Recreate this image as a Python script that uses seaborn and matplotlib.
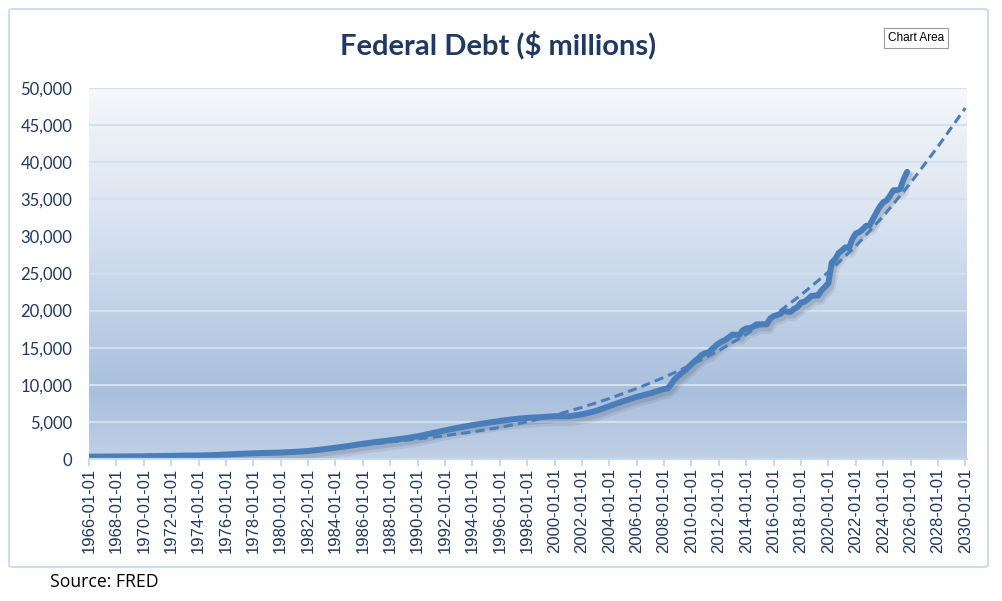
import numpy as np
import pandas as pd
import matplotlib
matplotlib.use("Agg")
import matplotlib.pyplot as plt
import matplotlib.dates as mdates
from matplotlib import patheffects as pe
from matplotlib.colors import LinearSegmentedColormap
from matplotlib.patches import FancyBboxPatch
from matplotlib.ticker import FuncFormatter
import seaborn as sns

# federal debt (yearly up to 2007, quarterly after)
annual_years = list(range(1966, 2008))
annual_debt = [320, 330, 345, 355, 370, 400, 430, 460, 475, 520,
               610, 690, 770, 820, 870, 960, 1080, 1290, 1520, 1770,
               2060, 2300, 2520, 2770, 3060, 3450, 3860, 4230, 4560, 4860,
               5120, 5370, 5540, 5640, 5770, 5750, 6010, 6460, 7130, 7780,
               8370, 8850]
quarter_dates = [f"{y}-{m:02d}-01" for y in range(2008, 2026) for m in (1, 4, 7, 10)]
quarter_debt = [9440, 9490, 10025, 10700,
                11130, 11540, 11910, 12310,
                12770, 13200, 13560, 14030,
                14270, 14340, 14790, 15220,
                15580, 15860, 16070, 16430,
                16770, 16740, 16740, 17350,
                17600, 17630, 17820, 18140,
                18150, 18150, 18150, 18920,
                19260, 19380, 19570, 19980,
                19850, 19840, 20240, 20490,
                21090, 21190, 21520, 21970,
                22030, 22020, 22720, 23200,
                23690, 26480, 26950, 27750,
                28130, 28530, 28430, 29620,
                30400, 30570, 30930, 31420,
                31460, 32330, 33170, 34000,
                34590, 34830, 35460, 36220,
                36220, 36400, 37700, 38700]

# dashed trend line, every two years
trend_years = list(range(1966, 2031, 2))
trend_debt = [200, 230, 270, 330, 420, 540, 700, 880, 1100, 1450,
              1850, 2300, 2700, 3150, 3650, 4250, 5000, 5900, 6950, 8150,
              9500, 11000, 12700, 14600, 16800, 19300, 22100, 25200, 28700, 32700,
              37200, 42100, 47300]

debt = pd.DataFrame({
    "date": pd.to_datetime([f"{y}-01-01" for y in annual_years] + quarter_dates),
    "value": annual_debt + quarter_debt,
})
trend = pd.DataFrame({
    "date": pd.to_datetime([f"{y}-01-01" for y in trend_years]),
    "value": trend_debt,
})

navy = "#1f3864"
line_blue = "#4a7ebb"
pale = "#c9d9ee"

W, H = 1003, 601
fig = plt.figure(figsize=(W / 100, H / 100), dpi=100)
ax = fig.add_axes([89 / W, 1 - 459 / H, (967 - 89) / W, (459 - 88) / H])

# gradient plot area
grad = LinearSegmentedColormap.from_list(
    "bg", [(0.0, "#f4f7fb"), (0.3, "#dfe7f2"), (0.55, "#c6d5e9"),
           (0.82, "#a9bfdc"), (1.0, "#c0d0e6")])
ax.imshow(np.linspace(0, 1, 256).reshape(-1, 1), cmap=grad, aspect="auto",
          extent=[0, 1, 0, 1], transform=ax.transAxes, zorder=-2)

shadow = [pe.SimpleLineShadow(offset=(1.5, -3), shadow_color="#50607a", alpha=0.12, linewidth=8),
          pe.SimpleLineShadow(offset=(1.5, -2.5), shadow_color="#50607a", alpha=0.2, linewidth=5),
          pe.Normal()]
sns.lineplot(data=debt, x="date", y="value", ax=ax, color=line_blue, lw=4.3,
             solid_capstyle="round", solid_joinstyle="round", path_effects=shadow)
sns.lineplot(data=trend, x="date", y="value", ax=ax, color=line_blue, lw=2.2)
ax.lines[-1].set_dashes((3, 1.7))

ax.set_xlim(pd.Timestamp("1966-01-01"), pd.Timestamp("2030-02-15"))
ax.set_ylim(0, 50000)
ax.set_yticks(range(0, 50001, 5000))
ax.yaxis.set_major_formatter(FuncFormatter(lambda v, p: f"{v:,.0f}"))
ax.xaxis.set_major_locator(mdates.YearLocator(2))
ax.xaxis.set_major_formatter(mdates.DateFormatter("%Y-%m-%d"))

ax.set_axisbelow(True)
ax.grid(axis="y", color="#d3e0f0", lw=1.5)
ax.grid(axis="x", visible=False)
for s in ("top", "right", "left"):
    ax.spines[s].set_visible(False)
ax.spines["bottom"].set_color(pale)
ax.spines["bottom"].set_linewidth(1.5)
ax.set_xlabel("")
ax.set_ylabel("")

ax.tick_params(axis="x", length=5, width=1.5, color=pale, labelcolor=navy, pad=1.5,
               labelrotation=90)
ax.tick_params(axis="y", length=0, labelcolor=navy, pad=12)
for lab in ax.get_xticklabels():
    lab.set_fontfamily("Liberation Sans")
    lab.set_fontsize(12)
for lab in ax.get_yticklabels():
    lab.set_fontfamily("Lato")
    lab.set_fontsize(12)

# chart frame
frame = FancyBboxPatch((9 / W, 1 - 567 / H), (988 - 9) / W, (567 - 9) / H,
                       boxstyle="round,pad=0,rounding_size=0.004",
                       transform=fig.transFigure, fill=False, ec="#cddcee", lw=1.5)
fig.add_artist(frame)

fig.text(498 / W, 1 - 45 / H, "Federal Debt ($ millions)", ha="center", va="center",
         fontsize=21, fontweight="bold", color=navy, family="Lato")
tip = fig.text(916 / W, 1 - 38 / H, "Chart Area", ha="center", va="center", fontsize=8.5,
               family="Liberation Sans", color="black",
               bbox=dict(boxstyle="square,pad=0.35", fc="white", ec="#9a9a9a", lw=0.8))
fig.text(50 / W, 1 - 582 / H, "Source: FRED", ha="left", va="center", fontsize=12.7,
         family="Open Sans", color="black")

fig.savefig("out.png", dpi=100)
